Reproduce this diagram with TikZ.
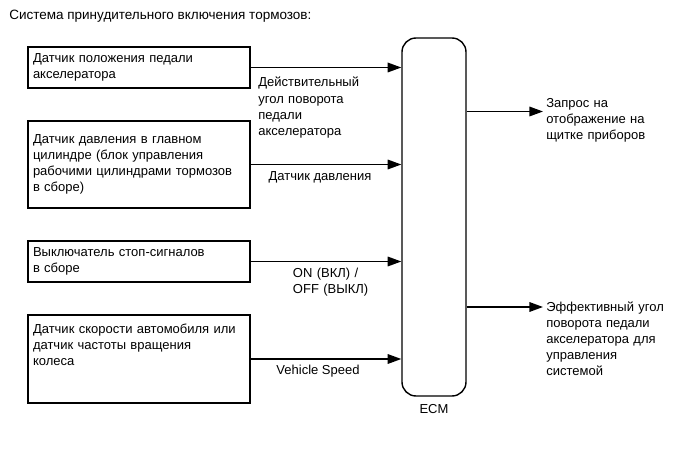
\documentclass[tikz,border=0pt]{standalone}
\usepackage{fontspec}
\setmainfont{Liberation Sans}
\usepackage{xcolor}
\usepackage{tikz}
\usetikzlibrary{arrows.meta}
\usetikzlibrary{positioning}

\begin{document}
\begin{tikzpicture}[
  font=\fontsize{9.25}{11.4}\selectfont,
  box/.style={
      draw=black,
      line width=1pt,
      minimum width=5.55cm,
      text width=5.3cm,
      inner xsep=0.125cm,
      inner ysep=0.1cm,
      align=left
  },
  lbl/.style={inner sep=0pt, align=left},
  arr/.style={-{Triangle[length=0.34cm, width=0.24cm]}, line width=1pt}
]
\useasboundingbox (0,0) rectangle (17.225,11.625);

\node[lbl, anchor=base west, font=\fontsize{9.6}{11.4}\selectfont] (title) at (0.225,11.1375) {Система принудительного включения тормозов:};

\node[box, minimum height=1.025cm] (pedal)    at (3.475,9.9375) {Датчик положения педали\\акселератора};
\node[box, minimum height=2.175cm] (pressure) at (3.475,7.5125) {Датчик давления в главном\\цилиндре (блок управления\\рабочими цилиндрами тормозов\\в сборе)};
\node[box, minimum height=1.025cm] (stoplamp) at (3.475,5.0875) {Выключатель стоп-сигналов\\в сборе};
\node[box, minimum height=2.2cm, text height=0.35cm, text depth=1.65cm] (speed) at (3.475,2.65) {Датчик скорости автомобиля или\\датчик частоты вращения\\колеса};

\node[draw=black, line width=1pt, rounded corners=0.35cm, minimum width=1.6cm, minimum height=8.95cm] (ecm) at (10.85,6.2) {};
\node[lbl, below=0.175cm of ecm] (ecmlbl) {ECM};

\coordinate (meterreq) at (13.575,8.8375);
\coordinate (effangle) at (13.575,3.95);

% inputs
\draw[arr] (pedal.east) -- node[lbl, text width=2.8cm, anchor=base west, pos=0, xshift=0.175cm, yshift=-0.4875cm] {Действительный\\угол поворота\\педали\\акселератора} (pedal.east -| ecm.west);
\draw[arr] (pressure.east) -- node[lbl, anchor=base, pos=0.46, yshift=-0.39cm] {Датчик давления} (pressure.east -| ecm.west);
\draw[arr] (stoplamp.east) -- node[lbl, text width=2.2cm, anchor=base west, pos=0.276, yshift=-0.4cm] {ON (ВКЛ) /\\OFF (ВЫКЛ)} (stoplamp.east -| ecm.west);
\draw[arr] (speed.east) -- node[lbl, anchor=base, pos=0.447, yshift=-0.39cm] {Vehicle Speed} (speed.east -| ecm.west);

% outputs
\draw[arr] (ecm.east |- meterreq) -- (meterreq);
\draw[arr] (ecm.east |- effangle) -- (effangle);
\node[lbl, text width=3.2cm, anchor=base west] (meterlbl) at ([xshift=0.075cm, yshift=0.1cm]meterreq) {Запрос на\\отображение на\\щитке приборов};
\node[lbl, text width=3.2cm, anchor=base west] (effanglelbl) at ([xshift=0.075cm, yshift=-0.1cm]effangle) {Эффективный угол\\поворота педали\\акселератора для\\управления\\системой};

\end{tikzpicture}
\end{document}
